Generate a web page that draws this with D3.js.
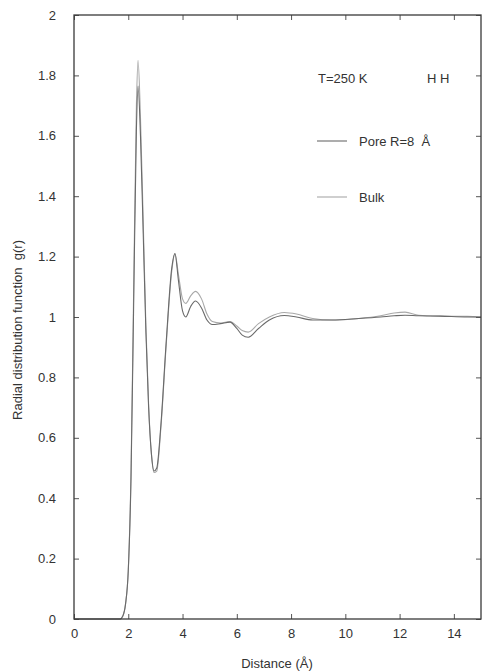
<!DOCTYPE html>
<html>
<head>
<meta charset="utf-8">
<script src="https://cdn.jsdelivr.net/npm/d3@7/dist/d3.min.js"></script>
<style>
  html, body { margin: 0; padding: 0; background: #fff; }
  svg { display: block; }
  text { font-family: "Liberation Sans", Arial, sans-serif; fill: #333; white-space: pre; }
</style>
</head>
<body>
<script>
// H–H radial distribution function at T = 250 K: water in a pore (R = 8 Å) vs bulk
const distance = [0, 1.5, 1.7, 1.8, 1.9, 2.0, 2.1, 2.2, 2.3, 2.36, 2.45, 2.55, 2.65, 2.75, 2.85, 2.95, 3.05,
  3.2, 3.4, 3.6, 3.72, 3.85, 4.0, 4.12, 4.3, 4.48, 4.7, 4.9, 5.1, 5.4, 5.75, 6.0, 6.2, 6.42, 6.8,
  7.2, 7.75, 8.2, 8.8, 9.5, 10.5, 11.3, 11.8, 12.2, 12.7, 13.5, 14.5, 15];
const gPore = [0, 0, 0, 0.01, 0.05, 0.16, 0.46, 1.05, 1.62, 1.765, 1.6, 1.28, 0.95, 0.7, 0.55, 0.49, 0.5,
  0.64, 0.92, 1.16, 1.21, 1.12, 1.02, 1.0, 1.035, 1.053, 1.03, 0.99, 0.975, 0.978, 0.983, 0.962, 0.94, 0.933, 0.962,
  0.99, 1.005, 1.0, 0.99, 0.99, 0.995, 1.0, 1.004, 1.006, 1.004, 1.003, 1.0, 1.0];
const gBulk = [0, 0, 0, 0.01, 0.05, 0.16, 0.48, 1.1, 1.7, 1.85, 1.66, 1.32, 0.97, 0.71, 0.55, 0.485, 0.49,
  0.63, 0.91, 1.15, 1.21, 1.14, 1.06, 1.045, 1.07, 1.085, 1.06, 1.01, 0.985, 0.98, 0.985, 0.97, 0.955, 0.95, 0.978,
  1.0, 1.015, 1.01, 0.995, 0.99, 0.995, 1.004, 1.013, 1.016, 1.006, 1.003, 1.002, 1.0];
const xTicks = [0, 2, 4, 6, 8, 10, 12, 14];
const yTicks = [0, 0.2, 0.4, 0.6, 0.8, 1, 1.2, 1.4, 1.6, 1.8, 2];

const W = 482, H = 672;
const plot = { left: 74, right: 481, top: 15, bottom: 619 };
const fontSize = 13;

const svg = d3.select("body").append("svg").attr("width", W).attr("height", H);

const x = d3.scaleLinear().domain([0, 15]).range([plot.left, plot.right]);
const y = d3.scaleLinear().domain([0, 2]).range([plot.bottom, plot.top]);

const series = [
  { name: "Bulk", g: gBulk, color: "#a8a8a8" },
  { name: "Pore", g: gPore, color: "#6a6a6a" }
];

const line = d3.line().curve(d3.curveMonotoneX);

series.forEach(s => {
  svg.append("path")
    .attr("d", line(distance.map((r, i) => [x(r), y(s.g[i])])))
    .attr("fill", "none")
    .attr("stroke", s.color)
    .attr("stroke-width", 1.1);
});

// Axes with inward ticks, mirrored on the opposite sides
const tickLen = 5;
const fmt = d => String(d);

svg.append("g").attr("transform", `translate(0,${plot.bottom})`)
  .call(d3.axisBottom(x).tickValues(xTicks).tickSize(-tickLen).tickPadding(10).tickFormat(fmt));
svg.append("g").attr("transform", `translate(0,${plot.top})`)
  .call(d3.axisTop(x).tickValues(xTicks).tickSize(-tickLen).tickFormat(""));
svg.append("g").attr("transform", `translate(${plot.left},0)`)
  .call(d3.axisLeft(y).tickValues(yTicks).tickSize(-tickLen).tickPadding(18).tickFormat(fmt));
svg.append("g").attr("transform", `translate(${plot.right},0)`)
  .call(d3.axisRight(y).tickValues(yTicks).tickSize(-tickLen).tickFormat(""));

svg.selectAll(".domain").remove();
svg.selectAll(".tick line").attr("stroke", "#555");
svg.selectAll(".tick text").attr("font-size", fontSize).attr("fill", "#3a3a3a")
  .attr("font-family", "'Liberation Sans', Arial, sans-serif");

svg.append("rect")
  .attr("x", plot.left).attr("y", plot.top)
  .attr("width", plot.right - plot.left).attr("height", plot.bottom - plot.top)
  .attr("fill", "none").attr("stroke", "#3a3a3a").attr("stroke-width", 1.3);

// Axis titles
svg.append("text")
  .attr("x", 277).attr("y", 668)
  .attr("text-anchor", "middle").attr("font-size", fontSize)
  .text("Distance (Å)");

svg.append("text")
  .attr("transform", `translate(22,330) rotate(-90)`)
  .attr("text-anchor", "middle").attr("font-size", fontSize)
  .text("Radial distribution function\u00a0\u00a0g(r)");

// Annotations and legend
svg.append("text").attr("x", 318).attr("y", 83).attr("font-size", fontSize).text("T=250 K");
svg.append("text").attr("x", 427).attr("y", 83).attr("font-size", fontSize).text("H H");

const legend = [
  { label: "Pore R=8\u00a0\u00a0Å", color: "#6a6a6a", yy: 141 },
  { label: "Bulk", color: "#a8a8a8", yy: 197 }
];
legend.forEach(l => {
  svg.append("line")
    .attr("x1", 317).attr("x2", 347).attr("y1", l.yy).attr("y2", l.yy)
    .attr("stroke", l.color).attr("stroke-width", 1.1);
  svg.append("text").attr("x", 359).attr("y", l.yy + 5).attr("font-size", fontSize).text(l.label);
});
</script>
</body>
</html>
